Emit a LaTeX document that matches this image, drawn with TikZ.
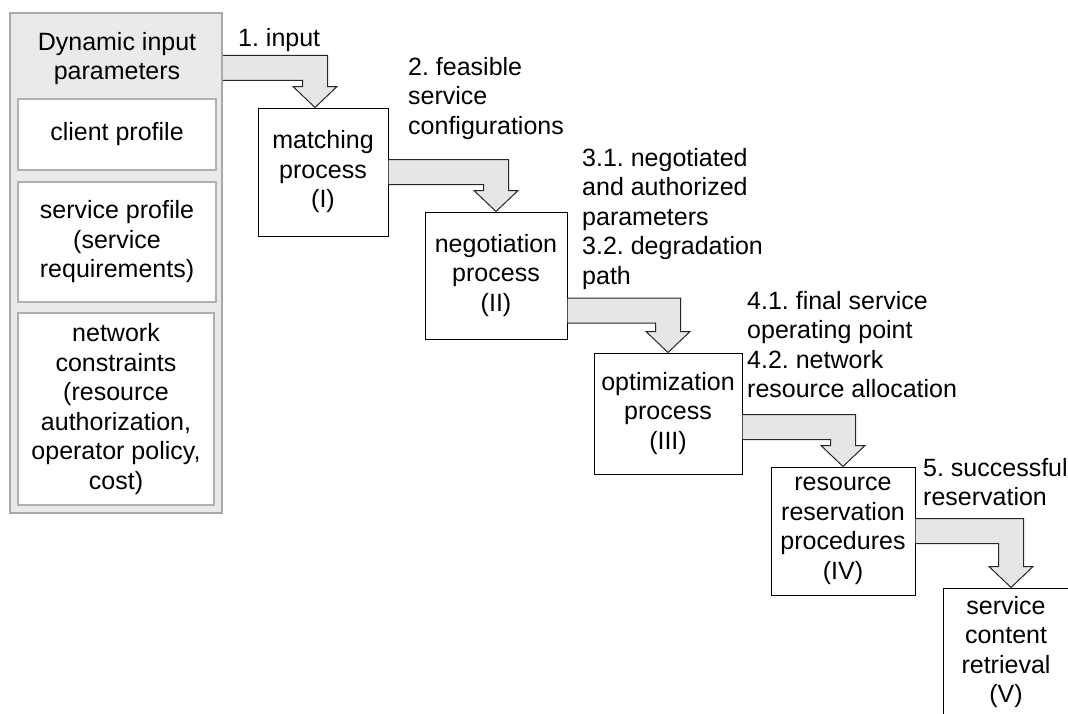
\documentclass[tikz,border=0pt]{standalone}
\usepackage{fontspec}
\setmainfont{Liberation Sans}
\usetikzlibrary{calc}
\frenchspacing

\definecolor{panelfill}{HTML}{EAEAEA}
\definecolor{panelline}{HTML}{A8A8A8}
\definecolor{subline}{HTML}{B0B0B0}
\definecolor{arrowfill}{HTML}{E6E6E6}

\tikzset{
	every node/.style={font=\fontsize{25}{29.5}\selectfont, inner sep=0pt},
	proc/.style={draw=black, fill=white, line width=1pt, align=center},
	sub/.style={draw=subline, fill=white, line width=1.2pt, align=center, minimum width=198pt},
	lbl/.style={align=left, anchor=north west},
	flow/.style={draw=black!85, fill=arrowfill, line width=1pt}
}

\def\flowarrow#1#2{\draw[flow] let \p1=#1, \p2=#2 in (\x1,\y1+12.5pt) -- (\x2+12.5pt,\y1+12.5pt) -- (\x2+12.5pt,\y2+21pt) -- (\x2+22pt,\y2+21pt) -- (\x2,\y2) -- (\x2-22pt,\y2+21pt) -- (\x2-12.5pt,\y2+21pt) -- (\x2-12.5pt,\y1-12.5pt) -- (\x1,\y1-12.5pt);}

\begin{document}
\begin{tikzpicture}[x=1pt, y=-1pt]
	
	\useasboundingbox (0,0) rectangle (1068,713);
	
	\node[draw=panelline, fill=panelfill, line width=1.5pt, minimum width=212pt, minimum height=500pt] (panel) at (116,263) {};
	\node[align=center] (title) at (117,58.5) {Dynamic input\\parameters};
	\node[sub, minimum height=71pt] (client) at (117,134.5) {client profile};
	\node[sub, minimum height=120pt] (service) at (117,242) {service profile\\(service\\requirements)};
	\node[sub, minimum width=196pt, minimum height=192pt] (network) at (116,409) {network\\constraints\\(resource\\authorization,\\operator policy,\\cost)};
	
	\node[proc, minimum width=130pt, minimum height=128pt] (match) at (323,172) {matching\\process\\(I)};
	\node[proc, minimum width=142pt, minimum height=127pt] (nego) at (496,275.5) {negotiation\\process\\(II)};
	\node[proc, minimum width=148pt, minimum height=121pt] (optim) at (668,413.5) {optimization\\process\\(III)};
	\node[proc, minimum width=144pt, minimum height=128pt] (resv) at (843,531) {resource\\reservation\\procedures\\(IV)};
	\node[proc, minimum width=126pt, minimum height=128pt] (retr) at (1006,652) {service\\content\\retrieval\\(V)};
	
	\node[lbl] (lin) at (238,28) {1. input};
	\node[lbl] (lfeas) at (408,57) {2. feasible\\service\\configurations};
	\node[lbl] (lnego) at (582,148) {3.1. negotiated\\and authorized\\parameters\\3.2. degradation\\path};
	\node[lbl] (lfinal) at (747,291) {4.1. final service\\operating point\\4.2. network\\resource allocation};
	\node[lbl] (lsucc) at (923,458) {5. successful\\reservation};
	
	\flowarrow{([yshift=-55.5pt]panel.north east)}{([xshift=-8pt]match.north)}
	\flowarrow{(match.east)}{(nego.north)}
	\flowarrow{([yshift=-35pt]nego.east)}{(optim.north)}
	\flowarrow{([yshift=-13.5pt]optim.east)}{(resv.north)}
	\flowarrow{(resv.east)}{([xshift=5pt]retr.north)}
	
\end{tikzpicture}
\end{document}
